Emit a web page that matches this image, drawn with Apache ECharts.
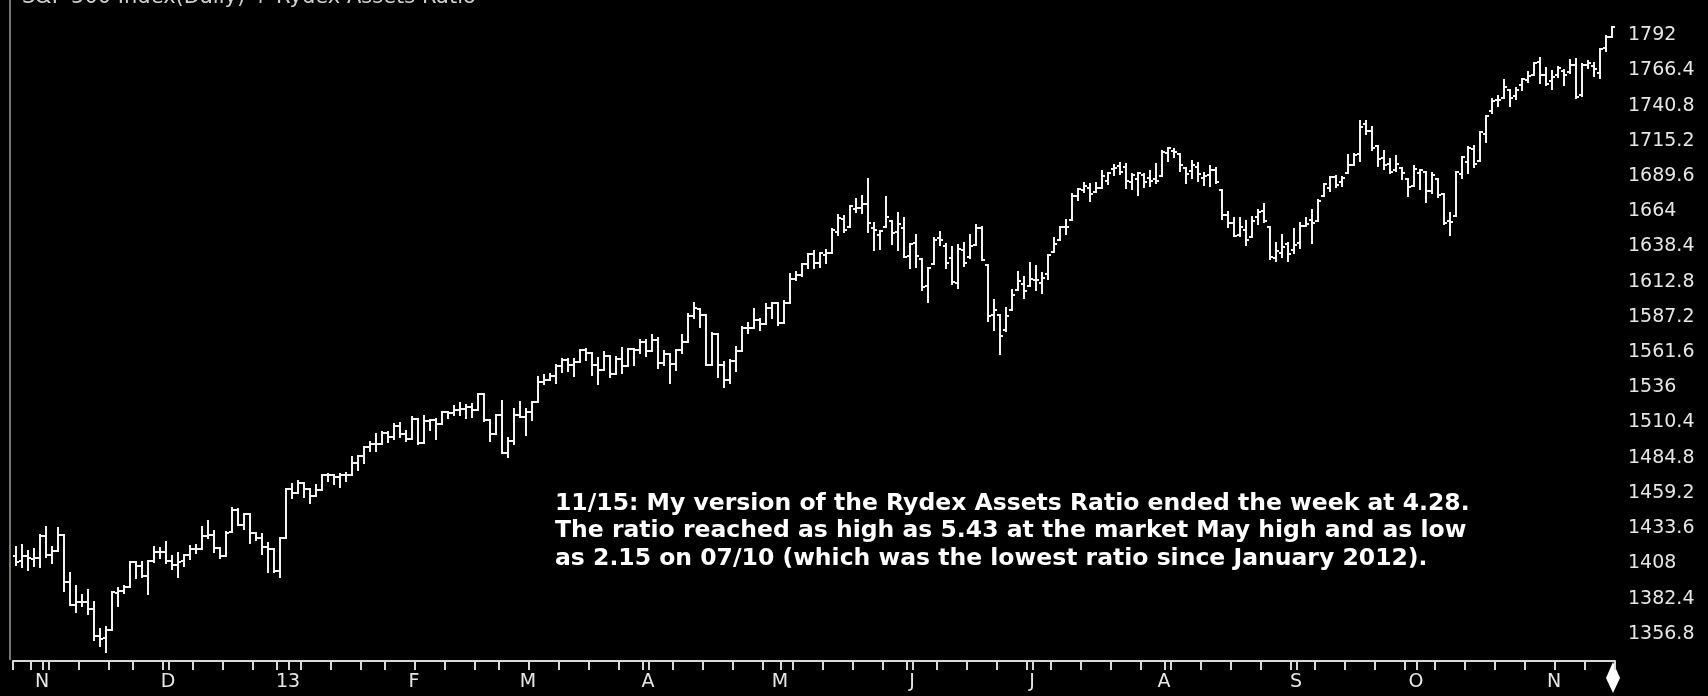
<!DOCTYPE html>
<html>
<head>
<meta charset="utf-8">
<title>S&P 500 Index (Daily) + Rydex Assets Ratio</title>
<script src="https://cdn.jsdelivr.net/npm/echarts@6/dist/echarts.min.js"></script>
<style>
  html, body { margin: 0; padding: 0; background: #000; }
  #main { width: 1708px; height: 696px; }
</style>
</head>
<body>
<div id="main"></div>
<script>
// trading days, month by month
const tradingDays = [
  ['2012-10', [24, 25, 26, 31]],
  ['2012-11', [1, 2, 5, 6, 7, 8, 9, 12, 13, 14, 15, 16, 19, 20, 21, 23, 26, 27, 28, 29, 30]],
  ['2012-12', [3, 4, 5, 6, 7, 10, 11, 12, 13, 14, 17, 18, 19, 20, 21, 24, 26, 27, 28, 31]],
  ['2013-01', [2, 3, 4, 7, 8, 9, 10, 11, 14, 15, 16, 17, 18, 22, 23, 24, 25, 28, 29, 30, 31]],
  ['2013-02', [1, 4, 5, 6, 7, 8, 11, 12, 13, 14, 15, 19, 20, 21, 22, 25, 26, 27, 28]],
  ['2013-03', [1, 4, 5, 6, 7, 8, 11, 12, 13, 14, 15, 18, 19, 20, 21, 22, 25, 26, 27, 28]],
  ['2013-04', [1, 2, 3, 4, 5, 8, 9, 10, 11, 12, 15, 16, 17, 18, 19, 22, 23, 24, 25, 26, 29, 30]],
  ['2013-05', [1, 2, 3, 6, 7, 8, 9, 10, 13, 14, 15, 16, 17, 20, 21, 22, 23, 24, 28, 29, 30, 31]],
  ['2013-06', [3, 4, 5, 6, 7, 10, 11, 12, 13, 14, 17, 18, 19, 20, 21, 24, 25, 26, 27, 28]],
  ['2013-07', [1, 2, 3, 5, 8, 9, 10, 11, 12, 15, 16, 17, 18, 19, 22, 23, 24, 25, 26, 29, 30, 31]],
  ['2013-08', [1, 2, 5, 6, 7, 8, 9, 12, 13, 14, 15, 16, 19, 20, 21, 22, 23, 26, 27, 28, 29, 30]],
  ['2013-09', [3, 4, 5, 6, 9, 10, 11, 12, 13, 16, 17, 18, 19, 20, 23, 24, 25, 26, 27, 30]],
  ['2013-10', [1, 2, 3, 4, 7, 8, 9, 10, 11, 14, 15, 16, 17, 18, 21, 22, 23, 24, 25, 28, 29, 30, 31]],
  ['2013-11', [1, 4, 5, 6, 7, 8, 11, 12, 13, 14, 15]]
];

// one line per month
const opens = [
  1413.2, 1409.7, 1413.0, 1411.0,
  1412.2, 1427.6, 1414.0, 1417.3, 1428.3, 1394.5, 1377.6, 1379.9, 1380.0, 1375.1, 1355.4, 1353.4, 1359.9, 1386.8, 1387.8, 1391.0, 1409.2, 1406.3, 1398.8, 1410.0, 1416.0,
  1416.3, 1409.5, 1407.1, 1409.4, 1414.0, 1418.1, 1418.6, 1427.8, 1428.5, 1419.5, 1413.5, 1430.5, 1446.8, 1435.8, 1443.7, 1430.2, 1426.7, 1419.8, 1418.1, 1402.4,
  1426.2, 1462.4, 1459.4, 1466.5, 1461.9, 1457.2, 1461.0, 1472.1, 1472.1, 1470.7, 1472.3, 1472.6, 1481.0, 1486.0, 1492.6, 1494.8, 1494.8, 1503.0, 1500.2, 1507.8, 1502.0,
  1498.1, 1513.2, 1495.7, 1511.3, 1512.1, 1509.4, 1517.9, 1517.0, 1519.4, 1520.3, 1521.4, 1519.8, 1530.9, 1512.0, 1502.4, 1515.6, 1487.9, 1496.9, 1516.0,
  1514.7, 1518.2, 1525.2, 1539.8, 1541.5, 1544.3, 1551.2, 1556.2, 1552.5, 1554.5, 1563.2, 1560.7, 1552.1, 1548.3, 1558.7, 1545.9, 1556.9, 1551.7, 1563.8, 1562.9,
  1569.2, 1562.2, 1570.3, 1553.7, 1560.0, 1553.3, 1563.1, 1568.6, 1587.7, 1593.3, 1588.8, 1552.4, 1574.6, 1552.0, 1541.6, 1555.3, 1562.5, 1578.8, 1578.8, 1585.2, 1582.3, 1593.6,
  1597.6, 1582.8, 1597.6, 1614.4, 1617.6, 1626.0, 1632.7, 1626.7, 1632.1, 1633.8, 1649.1, 1658.1, 1652.5, 1665.7, 1666.2, 1669.4, 1651.6, 1646.7, 1652.6, 1656.6, 1649.1, 1652.1,
  1631.7, 1640.7, 1629.1, 1609.9, 1625.3, 1644.7, 1638.6, 1629.9, 1612.2, 1635.5, 1630.6, 1639.8, 1651.8, 1624.6, 1588.6, 1588.8, 1577.5, 1592.3, 1606.4, 1611.1,
  1609.8, 1614.3, 1611.5, 1618.7, 1634.2, 1642.9, 1652.5, 1657.4, 1675.3, 1679.6, 1681.1, 1677.9, 1681.1, 1686.2, 1694.4, 1696.6, 1696.1, 1685.2, 1687.3, 1690.3, 1687.9, 1687.8,
  1689.4, 1706.1, 1708.0, 1705.8, 1695.3, 1693.4, 1696.1, 1688.4, 1690.7, 1693.9, 1679.6, 1661.2, 1655.3, 1646.8, 1650.7, 1645.0, 1659.9, 1664.3, 1652.5, 1630.3, 1633.5, 1640.1,
  1636.0, 1640.7, 1653.3, 1657.4, 1656.9, 1675.1, 1681.0, 1689.2, 1685.0, 1691.7, 1697.7, 1705.7, 1727.3, 1722.4, 1711.4, 1702.6, 1698.0, 1694.1, 1695.5, 1687.3,
  1682.4, 1691.9, 1692.4, 1678.8, 1687.2, 1676.2, 1657.0, 1660.9, 1691.1, 1699.9, 1709.2, 1700.5, 1720.2, 1736.7, 1745.2, 1746.5, 1752.3, 1747.5, 1756.0, 1759.4, 1762.9, 1772.3, 1763.2,
  1758.7, 1763.4, 1765.7, 1765.0, 1770.7, 1748.4, 1770.0, 1769.5, 1764.4, 1782.8, 1790.7
];
const highs = [
  1420.0, 1421.1, 1417.1, 1418.8,
  1428.4, 1434.3, 1419.9, 1433.4, 1428.3, 1401.2, 1391.4, 1384.9, 1388.8, 1380.1, 1360.6, 1362.0, 1386.9, 1389.8, 1391.3, 1409.2, 1409.2, 1409.0, 1410.0, 1419.7, 1418.9,
  1423.7, 1413.1, 1415.6, 1414.0, 1420.3, 1421.6, 1434.3, 1438.6, 1431.4, 1419.5, 1430.7, 1448.0, 1447.8, 1443.7, 1443.7, 1430.2, 1429.4, 1422.8, 1418.1, 1426.7,
  1462.4, 1465.5, 1467.9, 1466.5, 1461.9, 1464.7, 1472.3, 1472.8, 1472.1, 1473.3, 1474.0, 1485.2, 1486.0, 1492.6, 1496.1, 1502.3, 1503.3, 1503.2, 1509.4, 1509.9, 1504.2,
  1514.4, 1513.2, 1515.0, 1512.5, 1512.9, 1518.3, 1518.3, 1522.3, 1524.7, 1523.1, 1524.2, 1530.9, 1530.9, 1512.0, 1515.6, 1525.8, 1499.0, 1520.1, 1525.3,
  1520.0, 1525.3, 1543.5, 1545.3, 1545.8, 1552.5, 1556.3, 1556.8, 1556.4, 1563.3, 1563.6, 1560.7, 1557.3, 1561.6, 1558.7, 1557.7, 1564.9, 1564.0, 1564.1, 1570.3,
  1570.6, 1573.7, 1571.5, 1562.6, 1560.0, 1563.1, 1573.9, 1589.1, 1597.4, 1593.3, 1588.8, 1575.4, 1574.6, 1554.4, 1555.9, 1565.6, 1579.6, 1583.0, 1592.6, 1585.8, 1596.7, 1597.6,
  1597.6, 1598.6, 1618.5, 1619.8, 1626.0, 1632.8, 1635.0, 1633.7, 1636.0, 1651.1, 1661.5, 1660.5, 1667.5, 1672.8, 1674.9, 1687.2, 1655.5, 1649.8, 1674.2, 1656.6, 1662.9, 1659.0,
  1640.4, 1646.5, 1629.3, 1622.6, 1644.4, 1648.7, 1640.1, 1637.7, 1639.3, 1640.8, 1646.5, 1654.2, 1652.5, 1624.6, 1599.2, 1588.8, 1593.8, 1606.8, 1620.1, 1615.9,
  1626.6, 1624.3, 1619.0, 1632.1, 1644.7, 1652.4, 1657.9, 1676.6, 1680.2, 1684.5, 1683.7, 1684.8, 1693.1, 1692.1, 1697.6, 1698.8, 1698.4, 1690.9, 1691.9, 1690.9, 1693.2, 1698.4,
  1707.9, 1709.7, 1709.2, 1705.8, 1695.3, 1700.2, 1699.4, 1691.5, 1696.8, 1695.5, 1679.6, 1663.6, 1659.2, 1658.9, 1657.0, 1659.6, 1664.9, 1669.5, 1652.5, 1641.2, 1646.4, 1640.6,
  1651.4, 1655.7, 1659.2, 1664.8, 1672.4, 1684.1, 1689.1, 1690.0, 1688.7, 1705.0, 1705.5, 1729.4, 1729.9, 1725.2, 1711.4, 1707.6, 1701.7, 1703.9, 1695.5, 1687.3,
  1696.6, 1693.9, 1692.4, 1691.9, 1687.2, 1676.8, 1662.5, 1692.6, 1703.4, 1711.0, 1711.6, 1721.8, 1733.5, 1745.3, 1747.8, 1759.3, 1752.3, 1753.9, 1759.8, 1765.0, 1772.1, 1775.2, 1768.5,
  1765.7, 1768.8, 1767.0, 1773.7, 1774.5, 1770.8, 1773.4, 1771.8, 1782.0, 1791.5, 1798.2
];
const lows = [
  1407.1, 1405.1, 1403.3, 1406.0,
  1405.2, 1412.9, 1408.1, 1417.3, 1388.1, 1377.5, 1373.0, 1377.2, 1371.4, 1352.5, 1348.1, 1343.4, 1359.9, 1377.0, 1386.4, 1391.0, 1397.7, 1398.0, 1385.4, 1409.0, 1411.6,
  1408.5, 1403.7, 1398.2, 1405.9, 1410.9, 1415.6, 1418.6, 1426.8, 1416.0, 1411.9, 1413.5, 1430.5, 1435.8, 1432.8, 1422.6, 1424.7, 1414.9, 1401.8, 1401.6, 1398.1,
  1426.2, 1455.5, 1459.0, 1456.6, 1451.6, 1457.2, 1461.0, 1467.6, 1465.7, 1463.8, 1467.6, 1472.6, 1475.8, 1481.2, 1489.9, 1489.5, 1494.8, 1496.3, 1498.1, 1500.1, 1496.8,
  1498.1, 1495.0, 1495.7, 1504.7, 1498.5, 1509.4, 1513.6, 1515.6, 1515.9, 1514.0, 1514.1, 1519.8, 1511.4, 1497.3, 1502.4, 1487.9, 1485.0, 1494.9, 1514.5,
  1501.5, 1512.3, 1525.2, 1538.1, 1541.5, 1539.2, 1547.4, 1548.2, 1544.4, 1554.5, 1555.7, 1545.1, 1538.6, 1548.3, 1543.6, 1545.9, 1546.2, 1551.7, 1551.9, 1561.1,
  1558.5, 1562.2, 1549.8, 1552.5, 1539.5, 1548.6, 1560.9, 1568.6, 1586.2, 1580.0, 1552.3, 1552.4, 1543.7, 1536.0, 1539.4, 1548.2, 1562.5, 1575.8, 1578.8, 1577.6, 1582.3, 1586.5,
  1581.3, 1582.8, 1597.6, 1614.2, 1616.6, 1622.7, 1623.1, 1623.7, 1626.7, 1633.8, 1646.7, 1648.6, 1652.5, 1663.5, 1662.7, 1648.9, 1635.5, 1636.9, 1652.6, 1640.1, 1636.1, 1630.7,
  1622.7, 1623.6, 1607.1, 1598.2, 1625.3, 1639.3, 1622.9, 1610.9, 1608.1, 1624.0, 1630.3, 1639.8, 1628.9, 1584.3, 1577.7, 1560.3, 1577.1, 1592.3, 1606.4, 1601.1,
  1609.8, 1606.8, 1604.6, 1614.7, 1634.2, 1642.9, 1647.7, 1657.4, 1672.3, 1677.9, 1671.8, 1677.9, 1681.1, 1684.1, 1690.7, 1691.1, 1681.0, 1680.1, 1676.0, 1681.9, 1682.4, 1684.9,
  1689.4, 1700.7, 1703.6, 1693.3, 1684.9, 1688.4, 1686.0, 1683.4, 1682.6, 1684.8, 1658.6, 1652.6, 1646.0, 1646.1, 1639.4, 1645.0, 1654.8, 1656.0, 1629.1, 1627.5, 1630.9, 1628.1,
  1633.4, 1637.4, 1653.1, 1640.6, 1656.9, 1675.1, 1678.7, 1682.0, 1682.2, 1691.7, 1697.7, 1700.4, 1720.2, 1708.9, 1697.1, 1694.9, 1691.9, 1693.1, 1687.1, 1675.0,
  1682.1, 1680.3, 1670.4, 1677.3, 1674.7, 1655.0, 1646.5, 1660.9, 1688.5, 1692.1, 1695.9, 1700.5, 1714.1, 1735.7, 1740.7, 1746.5, 1740.5, 1745.5, 1752.5, 1757.7, 1762.9, 1757.2, 1755.7,
  1752.7, 1761.6, 1755.8, 1764.4, 1746.2, 1747.6, 1767.9, 1762.3, 1760.6, 1780.2, 1790.7
];
const closes = [
  1408.8, 1413.0, 1411.9, 1412.2,
  1427.6, 1414.2, 1417.3, 1428.4, 1394.5, 1377.5, 1379.9, 1380.0, 1374.5, 1355.5, 1353.3, 1359.9, 1386.9, 1387.8, 1391.0, 1409.2, 1406.3, 1398.9, 1409.9, 1416.0, 1416.2,
  1409.5, 1407.1, 1409.3, 1413.9, 1418.1, 1418.6, 1427.8, 1428.5, 1419.5, 1413.6, 1430.4, 1446.8, 1435.8, 1443.7, 1430.2, 1426.7, 1419.8, 1418.1, 1402.4, 1426.2,
  1462.4, 1459.4, 1466.5, 1461.9, 1457.2, 1461.0, 1472.1, 1472.1, 1470.7, 1472.3, 1472.6, 1480.9, 1486.0, 1492.6, 1494.8, 1494.8, 1503.0, 1500.2, 1507.8, 1502.0, 1498.1,
  1513.2, 1495.7, 1511.3, 1512.1, 1509.4, 1517.9, 1517.0, 1519.4, 1520.3, 1521.4, 1519.8, 1530.9, 1512.0, 1502.4, 1515.6, 1487.9, 1496.9, 1516.0, 1514.7,
  1518.2, 1525.2, 1539.8, 1541.5, 1544.3, 1551.2, 1556.2, 1552.5, 1554.5, 1563.2, 1560.7, 1552.1, 1548.3, 1558.7, 1545.8, 1556.9, 1551.7, 1563.8, 1562.9, 1569.2,
  1562.2, 1570.3, 1553.7, 1560.0, 1553.3, 1563.1, 1568.6, 1587.7, 1593.4, 1588.9, 1552.4, 1574.6, 1552.0, 1541.6, 1555.3, 1562.5, 1578.8, 1578.8, 1585.2, 1582.2, 1593.6, 1597.6,
  1582.7, 1597.6, 1614.4, 1617.5, 1626.0, 1632.7, 1626.7, 1633.7, 1633.8, 1650.3, 1658.8, 1650.5, 1667.5, 1666.3, 1669.2, 1655.4, 1650.5, 1649.6, 1660.1, 1648.4, 1654.4, 1630.7,
  1640.4, 1631.4, 1608.9, 1622.6, 1643.4, 1642.8, 1626.1, 1612.5, 1636.4, 1626.7, 1639.0, 1651.8, 1628.9, 1588.2, 1592.4, 1573.1, 1588.0, 1603.3, 1613.2, 1606.3,
  1615.0, 1614.1, 1615.4, 1631.9, 1640.5, 1652.3, 1652.6, 1675.0, 1680.2, 1682.5, 1676.3, 1680.9, 1689.4, 1692.1, 1695.5, 1692.4, 1685.9, 1690.3, 1691.7, 1685.3, 1686.0, 1685.7,
  1706.9, 1709.7, 1707.1, 1697.4, 1690.9, 1697.5, 1691.4, 1689.5, 1694.2, 1685.4, 1661.3, 1655.8, 1646.1, 1652.4, 1642.8, 1657.0, 1663.5, 1656.8, 1630.5, 1635.0, 1638.2, 1633.0,
  1639.8, 1653.1, 1655.1, 1655.2, 1671.7, 1684.0, 1689.1, 1683.4, 1688.0, 1697.6, 1704.8, 1725.5, 1722.3, 1709.9, 1701.8, 1697.4, 1692.8, 1698.7, 1691.8, 1681.6,
  1695.0, 1693.9, 1678.7, 1690.5, 1676.1, 1655.5, 1656.4, 1692.6, 1703.2, 1710.1, 1698.1, 1721.5, 1733.2, 1744.5, 1744.7, 1754.7, 1746.4, 1752.1, 1759.8, 1762.1, 1772.0, 1763.3, 1756.5,
  1761.6, 1767.9, 1763.0, 1770.5, 1747.2, 1770.6, 1771.9, 1767.7, 1782.0, 1790.6, 1798.2
];

// y axis tick values (right side)
const yMin = 1331.2, yMax = 1817.6, yStep = 25.6;
const monthLetters = ['13', 'F', 'M', 'A', 'M', 'J', 'J', 'A', 'S', 'O', 'N', 'D'];

const titleText = 'S&P 500 Index(Daily) + Rydex Assets Ratio';
const noteText = [
  '11/15: My version of the Rydex Assets Ratio ended the week at 4.28.',
  'The ratio reached as high as 5.43 at the market May high and as low',
  'as 2.15 on 07/10 (which was the lowest ratio since January 2012).'
];

// build categories + flags for labels and ticks
const days = [];
tradingDays.forEach(function (m) {
  m[1].forEach(function (d) {
    days.push(m[0] + '-' + (d < 10 ? '0' + d : d));
  });
});
function toDate(s) { return new Date(s + 'T00:00:00Z'); }
const monthStart = days.map(function (s, i) {
  return i > 0 && s.slice(0, 7) !== days[i - 1].slice(0, 7);
});
const weekStart = days.map(function (s, i) {
  if (i === 0) return true;
  const a = toDate(days[i - 1]), b = toDate(s);
  return b.getUTCDay() <= a.getUTCDay() || (b - a) > 6 * 86400000;
});
const tickFlags = days.map(function (s, i) {
  return weekStart[i] || (i > 0 && monthStart[i - 1]);
});

const bars = days.map(function (d, i) {
  return [i, opens[i], highs[i], lows[i], closes[i]];
});

function renderItem(params, api) {
  const i = api.value(0);
  const x = Math.round(api.coord([i, 0])[0]);
  const yo = Math.round(api.coord([i, api.value(1)])[1]);
  const yh = Math.round(api.coord([i, api.value(2)])[1]);
  const yl = Math.round(api.coord([i, api.value(3)])[1]);
  const yc = Math.round(api.coord([i, api.value(4)])[1]);
  const st = { stroke: '#f2f2f2', lineWidth: 2 };
  return {
    type: 'group',
    children: [
      { type: 'line', shape: { x1: x, y1: yh - 1, x2: x, y2: yl + 1 }, style: st },
      { type: 'line', shape: { x1: x - 3, y1: yo, x2: x, y2: yo }, style: st },
      { type: 'line', shape: { x1: x, y1: yc, x2: x + 3, y2: yc }, style: st }
    ]
  };
}

const chart = echarts.init(document.getElementById('main'), null, { renderer: 'canvas' });

const option = {
  backgroundColor: '#000',
  animation: false,
  grid: { left: 13, right: 93, top: -17, bottom: 27, containLabel: false },
  xAxis: {
    type: 'category',
    data: days,
    boundaryGap: true,
    offset: -8,
    axisLine: { show: true, lineStyle: { color: '#d9d9d9', width: 2 } },
    axisTick: {
      show: true,
      inside: false,
      alignWithLabel: false,
      interval: function (i) { return !!tickFlags[i]; },
      length: 9,
      lineStyle: { color: '#d9d9d9', width: 2 }
    },
    axisLabel: {
      interval: function (i) { return monthStart[i] || i === 4; },
      formatter: function (v) { return monthLetters[toDate(v).getUTCMonth()]; },
      color: '#e6e6e6',
      fontFamily: 'DejaVu Sans',
      fontSize: 19,
      margin: 12,
      padding: [0, 0, 0, 4]
    },
    splitLine: { show: false }
  },
  yAxis: {
    type: 'value',
    position: 'right',
    min: yMin,
    max: yMax,
    interval: yStep,
    axisLine: { show: false },
    axisTick: { show: false },
    splitLine: { show: false },
    axisLabel: {
      showMinLabel: false,
      showMaxLabel: false,
      margin: 13,
      color: '#e6e6e6',
      fontFamily: 'DejaVu Sans',
      fontSize: 19,
      formatter: function (v) { return String(Math.round(v * 10) / 10); }
    }
  },
  graphic: [
    { type: 'line', shape: { x1: 10, y1: 0, x2: 10, y2: 660 }, style: { stroke: '#77776e', lineWidth: 2 } },
    { type: 'text', style: { x: 22, y: 8, text: titleText, fill: '#d0d0d0', font: '21px "DejaVu Sans"', verticalAlign: 'bottom' } },
    { type: 'text', style: { x: 555, y: 490, text: noteText.join('\n'), fill: '#ffffff', font: 'bold 23.5px "DejaVu Sans"', lineHeight: 27.5 } },
    { type: 'polygon', shape: { points: [[1613, 662], [1620, 678], [1613, 693], [1606, 678]] }, style: { fill: '#ffffff' } }
  ],
  series: [{
    type: 'custom',
    renderItem: renderItem,
    clip: false,
    encode: { x: 0, y: [1, 2, 3, 4] },
    data: bars
  }]
};

chart.setOption(option);
</script>
</body>
</html>
